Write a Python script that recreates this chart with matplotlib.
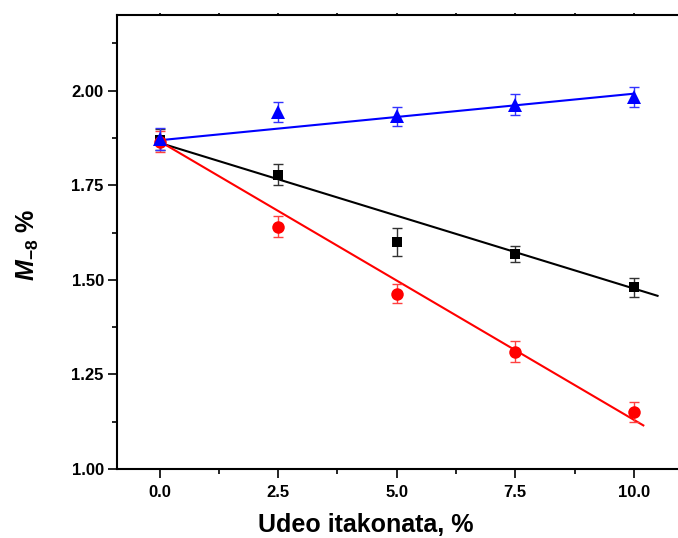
import numpy as np
import matplotlib
matplotlib.use("Agg")
import matplotlib.pyplot as plt
from matplotlib.ticker import MultipleLocator

plt.rcParams['font.family'] = ['Liberation Sans', 'DejaVu Sans']
plt.rcParams['font.weight'] = 'bold'
plt.rcParams['mathtext.fontset'] = 'custom'
plt.rcParams['mathtext.rm'] = 'Liberation Sans:bold'
plt.rcParams['mathtext.bf'] = 'Liberation Sans:bold'
plt.rcParams['mathtext.it'] = 'Liberation Sans:italic:bold'
plt.rcParams['mathtext.bfit'] = 'Liberation Sans:italic:bold'

# data
x = [0.0, 2.5, 5.0, 7.5, 10.0]
black_y = [1.870, 1.778, 1.600, 1.568, 1.480]
black_err = [0.028, 0.028, 0.037, 0.022, 0.025]
red_y = [1.865, 1.640, 1.463, 1.310, 1.150]
red_err = [0.028, 0.028, 0.025, 0.028, 0.026]
blue_y = [1.872, 1.943, 1.932, 1.963, 1.984]
blue_err = [0.028, 0.026, 0.025, 0.028, 0.026]

# linear fits (intercept, slope) and the x-range they are drawn over
black_fit = (1.862, -0.0385)
red_fit = (1.866, -0.0736)
blue_fit = (1.869, 0.0123)
black_fit_x = [0.0, 10.5]
red_fit_x = [0.0, 10.2]
blue_fit_x = [0.0, 10.0]

x_ticks = [0.0, 2.5, 5.0, 7.5, 10.0]
y_ticks = [1.00, 1.25, 1.50, 1.75, 2.00]

fig = plt.figure(figsize=(6.78, 5.38), dpi=100)
ax = fig.add_axes([117/678, 1-469/538, (686-117)/678, (469-15)/538])

def draw(y, err, fit, fitx, color, ecolor, marker, ms):
    fx = np.array(fitx)
    ax.plot(fx, fit[0] + fit[1]*fx, color=color, lw=1.5, zorder=2)
    ax.errorbar(x, y, yerr=err, fmt='none', ecolor=ecolor,
                capsize=3.8, elinewidth=1.0, capthick=1.0, zorder=3)
    ax.plot(x, y, linestyle='none', marker=marker, color=color, ms=ms,
            markeredgewidth=0, zorder=4)

draw(black_y, black_err, black_fit, black_fit_x, 'black', '#333333', 's', 7.5)
draw(red_y, red_err, red_fit, red_fit_x, '#ff0000', '#ff4040', 'o', 9)
draw(blue_y, blue_err, blue_fit, blue_fit_x, '#0000ff', '#3333ff', '^', 10)

ax.set_xlim(-0.9, 11.1)
ax.set_ylim(1.0, 2.2)
ax.set_xticks(x_ticks)
ax.set_xticklabels([f"{v:.1f}" for v in x_ticks])
ax.set_yticks(y_ticks)
ax.set_yticklabels([f"{v:.2f}" for v in y_ticks])
ax.xaxis.set_minor_locator(MultipleLocator(1.25))
ax.yaxis.set_minor_locator(MultipleLocator(0.125))

for s in ax.spines.values():
    s.set_linewidth(1.5)

ax.tick_params(axis='both', which='major', direction='out', length=6.5, width=1.2,
               labelsize=12, pad=3)
ax.tick_params(axis='both', which='minor', direction='out', length=3.5, width=1.2)
ax.tick_params(axis='x', which='major', pad=5)
ax.tick_params(axis='x', which='both', top=True)
for t in ax.xaxis.get_major_ticks() + ax.xaxis.get_minor_ticks():
    t.tick2line.set_markersize(1.5)
for lab in ax.get_xticklabels() + ax.get_yticklabels():
    lab.set_fontweight('bold')

ax.text((366-117)/569, (469-525)/454, "Udeo itakonata, %", transform=ax.transAxes,
        ha='center', va='center', fontsize=18, fontweight='bold')
ax.text((28-117)/569, (469-245)/454, r"$\mathbfit{M}_{\mathbf{-8}}$ %", transform=ax.transAxes,
        ha='center', va='center', fontsize=18, fontweight='bold', rotation=90)

fig.savefig("out.png", dpi=100)
